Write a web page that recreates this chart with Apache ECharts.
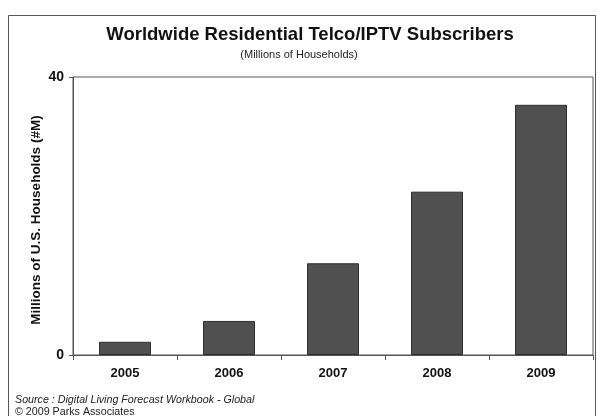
<!DOCTYPE html>
<html>
<head>
<meta charset="utf-8">
<script src="https://cdn.jsdelivr.net/npm/echarts@6/dist/echarts.min.js"></script>
<style>
  html, body { margin: 0; padding: 0; background: #fff; }
  #chart { width: 597px; height: 416px; }
</style>
</head>
<body>
<div id="chart"></div>
<script>
// Yearly subscriber totals, millions of households
const years = ['2005', '2006', '2007', '2008', '2009'];
const subscribers = [1.9, 4.9, 13.2, 23.5, 36.0];
const yTicks = [0, 40];

const FONT = '"Liberation Sans", Arial, sans-serif';

const chart = echarts.init(document.getElementById('chart'), null, { renderer: 'canvas' });

chart.setOption({
  backgroundColor: '#ffffff',
  animation: false,
  title: [
    {
      text: 'Worldwide Residential Telco/IPTV Subscribers',
      left: 310,
      textAlign: 'center',
      top: 25,
      padding: 0,
      textStyle: { fontFamily: FONT, fontSize: 18.5, fontWeight: 'bold', color: '#111' }
    },
    {
      text: '(Millions of Households)',
      left: 299,
      textAlign: 'center',
      top: 49,
      padding: 0,
      textStyle: { fontFamily: FONT, fontSize: 11, fontWeight: 'normal', color: '#222' }
    }
  ],
  graphic: [
    {
      type: 'rect',
      shape: { x: 8.5, y: 15.5, width: 587, height: 420 },
      style: { fill: 'none', stroke: '#555', lineWidth: 1 },
      silent: true
    },
    {
      type: 'text',
      left: 15,
      top: 395,
      style: {
        text: 'Source : Digital Living Forecast Workbook - Global',
        font: 'italic 10.7px ' + FONT,
        fill: '#222'
      }
    },
    {
      type: 'text',
      left: 15,
      top: 407,
      style: {
        text: '\u00A9 2009 Parks Associates',
        font: '10.7px ' + FONT,
        fill: '#222'
      }
    }
  ],
  grid: {
    left: 73,
    right: 4,
    top: 77,
    bottom: 61,
    show: true,
    borderColor: '#555',
    borderWidth: 1,
    backgroundColor: '#fff'
  },
  xAxis: {
    type: 'category',
    data: years,
    boundaryGap: true,
    axisLine: { lineStyle: { color: '#555', width: 1 } },
    axisTick: { show: true, length: 5, lineStyle: { color: '#555' } },
    axisLabel: {
      margin: 12,
      fontFamily: FONT,
      fontSize: 13,
      fontWeight: 'bold',
      color: '#111'
    }
  },
  yAxis: {
    type: 'value',
    min: yTicks[0],
    max: yTicks[yTicks.length - 1],
    interval: yTicks[1] - yTicks[0],
    name: 'Millions of U.S. Households (#M)',
    nameLocation: 'middle',
    nameGap: 30,
    nameMoveOverlap: false,
    nameTextStyle: {
      fontFamily: FONT,
      fontSize: 13.5,
      fontWeight: 'bold',
      color: '#111',
      padding: [0, 8, 0, 0]
    },
    splitLine: { show: false },
    axisLine: { show: true, lineStyle: { color: '#555', width: 1 } },
    axisTick: { show: true, length: 4, lineStyle: { color: '#555' } },
    axisLabel: {
      margin: 9,
      fontFamily: FONT,
      fontSize: 14,
      fontWeight: 'bold',
      color: '#111'
    }
  },
  series: [
    {
      type: 'bar',
      data: subscribers,
      barWidth: '50%',
      itemStyle: { color: '#505050', borderColor: '#2e2e2e', borderWidth: 1 }
    }
  ]
});
</script>
</body>
</html>
